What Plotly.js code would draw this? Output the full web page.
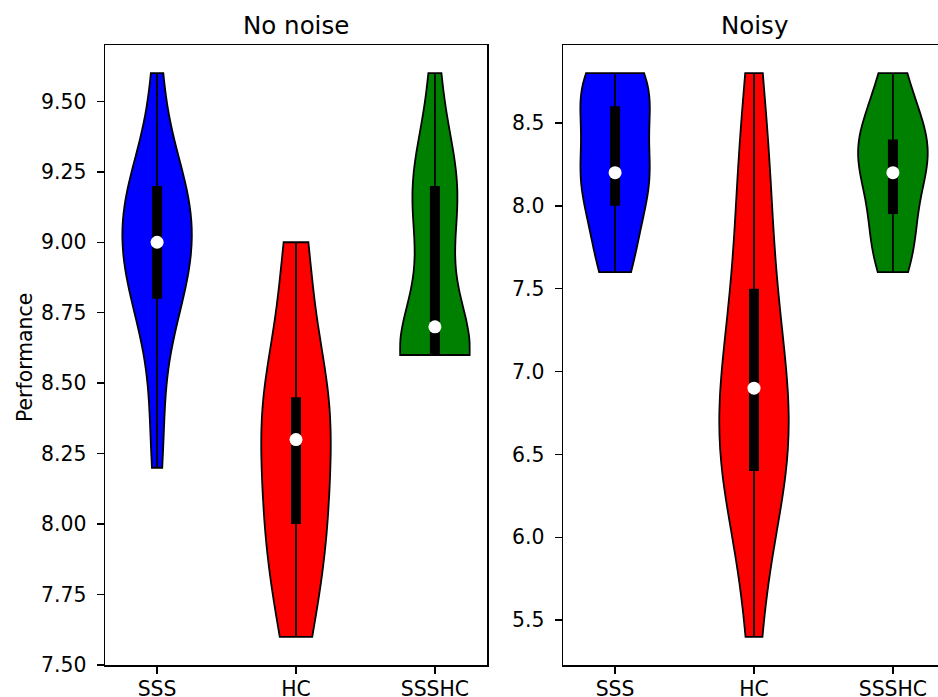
<!DOCTYPE html>
<html><head><meta charset="utf-8">
<script src="https://cdn.plot.ly/plotly-3.0.1.min.js"></script>
<style>
html,body{margin:0;padding:0;overflow:hidden;background:#fff;width:938px;height:697px}
#chart{width:950px;height:697px}
</style>
</head><body><div id="chart"></div>
<script>
// ---- data ----
const categories = ['SSS', 'HC', 'SSSHC'];
const panelTitles = ['No noise', 'Noisy'];
const yLabel = 'Performance';

const noNoiseSSS   = [8.2, 8.4, 8.6, 8.8, 8.8, 8.8, 8.8, 9.0, 9.0, 9.0, 9.0, 9.0, 9.0, 9.2, 9.2, 9.2, 9.2, 9.2, 9.4, 9.6];
const noNoiseHC    = [7.6, 7.6, 7.8, 7.8, 8.0, 8.0, 8.0, 8.0, 8.2, 8.2, 8.4, 8.4, 8.4, 8.4, 8.4, 8.6, 8.6, 8.8, 9.0, 9.0];
const noNoiseSSSHC = [8.6, 8.6, 8.6, 8.6, 8.6, 8.6, 8.6, 8.6, 8.6, 8.6, 8.8, 9.0, 9.0, 9.2, 9.2, 9.2, 9.2, 9.2, 9.4, 9.6];

const noisySSS   = [7.6, 7.6, 7.8, 7.8, 8.0, 8.0, 8.2, 8.2, 8.2, 8.2, 8.2, 8.4, 8.6, 8.6, 8.6, 8.6, 8.8, 8.8, 8.8, 8.8];
const noisyHC    = [5.4, 5.8, 6.2, 6.4, 6.4, 6.4, 6.6, 6.6, 6.6, 6.8, 7.0, 7.0, 7.2, 7.4, 7.4, 7.8, 8.0, 8.2, 8.4, 8.8];
const noisySSSHC = [7.6, 7.6, 7.8, 7.8, 7.8, 8.0, 8.0, 8.2, 8.2, 8.2, 8.2, 8.4, 8.4, 8.4, 8.4, 8.4, 8.6, 8.6, 8.8, 8.8];

const colors = ['#0000ff', '#ff0000', '#008000'];

// ---- helpers ----
function quantile(arr, p) {
  const s = arr.slice().sort((a, b) => a - b);
  const pos = (s.length - 1) * p;
  const lo = Math.floor(pos), hi = Math.ceil(pos);
  return s[lo] + (s[hi] - s[lo]) * (pos - lo);
}
function scottBandwidth(arr) {
  const n = arr.length;
  const m = arr.reduce((a, b) => a + b, 0) / n;
  const v = arr.reduce((a, b) => a + (b - m) * (b - m), 0) / (n - 1);
  return Math.sqrt(v) * Math.pow(n, -0.2);
}

const panels = [
  {groups: [noNoiseSSS, noNoiseHC, noNoiseSSSHC], xa: 'x', ya: 'y'},
  {groups: [noisySSS, noisyHC, noisySSSHC], xa: 'x2', ya: 'y2'}
];

const traces = [];
panels.forEach(p => {
  p.groups.forEach((g, i) => {
    traces.push({
      type: 'violin', x: g.map(() => categories[i]), y: g,
      xaxis: p.xa, yaxis: p.ya,
      spanmode: 'hard', side: 'both', width: 0.5, scalemode: 'width',
      bandwidth: scottBandwidth(g),
      points: false, box: {visible: false}, meanline: {visible: false},
      fillcolor: colors[i], opacity: 1,
      line: {color: '#000000', width: 1.8},
      hoverinfo: 'skip', showlegend: false
    });
  });
  const wx = [], wy = [], bx = [], by = [], mx = [], my = [];
  p.groups.forEach((g, i) => {
    const c = categories[i];
    wx.push(c, c, null); wy.push(Math.min(...g), Math.max(...g), null);
    bx.push(c, c, null); by.push(quantile(g, 0.25), quantile(g, 0.75), null);
    mx.push(c); my.push(quantile(g, 0.5));
  });
  traces.push({type: 'scatter', mode: 'lines', x: wx, y: wy, xaxis: p.xa, yaxis: p.ya,
    line: {color: '#000000', width: 1.8}, hoverinfo: 'skip', showlegend: false, connectgaps: false});
  traces.push({type: 'scatter', mode: 'lines', x: bx, y: by, xaxis: p.xa, yaxis: p.ya,
    line: {color: '#000000', width: 10}, hoverinfo: 'skip', showlegend: false, connectgaps: false});
  traces.push({type: 'scatter', mode: 'markers', x: mx, y: my, xaxis: p.xa, yaxis: p.ya,
    marker: {color: '#ffffff', size: 13, line: {width: 0}}, hoverinfo: 'skip', showlegend: false});
});

const W = 950, H = 697;
const font = {family: 'DejaVu Sans', size: 20.4, color: '#000000'};
const axisCommon = {
  showline: true, mirror: true, linecolor: '#000000', linewidth: 1.5,
  ticks: 'outside', ticklen: 7, tickwidth: 1.5, tickcolor: '#000000',
  showgrid: false, zeroline: false, tickfont: font
};
const ydom = [(H - 665) / H, (H - 45) / H];

const layout = {
  width: W, height: H,
  margin: {l: 0, r: 0, t: 0, b: 0, pad: 0},
  paper_bgcolor: '#ffffff', plot_bgcolor: '#ffffff',
  violinmode: 'overlay', showlegend: false,
  font: font,
  xaxis: Object.assign({}, axisCommon, {type: 'category', categoryarray: categories, categoryorder: 'array',
    range: [-0.375, 2.375], domain: [105 / W, 487 / W], anchor: 'y', ticklabelstandoff: -2}),
  yaxis: Object.assign({}, axisCommon, {range: [7.5, 9.7], tick0: 7.5, dtick: 0.25, tickformat: '.2f',
    domain: ydom, anchor: 'x', ticklabelstandoff: 6}),
  xaxis2: Object.assign({}, axisCommon, {type: 'category', categoryarray: categories, categoryorder: 'array',
    range: [-0.375, 2.375], domain: [563 / W, 945 / W], anchor: 'y2', ticklabelstandoff: -2}),
  yaxis2: Object.assign({}, axisCommon, {range: [5.23, 8.97], tick0: 5.5, dtick: 0.5, tickformat: '.1f',
    domain: ydom, anchor: 'x2', ticklabelstandoff: 6}),
  annotations: [
    {text: panelTitles[0], xref: 'paper', yref: 'paper', x: 296 / W, y: 1 - 25 / H,
     xanchor: 'center', yanchor: 'middle', showarrow: false,
     font: {family: 'DejaVu Sans', size: 24.5, color: '#000000'}},
    {text: panelTitles[1], xref: 'paper', yref: 'paper', x: 754 / W, y: 1 - 25 / H,
     xanchor: 'center', yanchor: 'middle', showarrow: false,
     font: {family: 'DejaVu Sans', size: 24.5, color: '#000000'}},
    {text: yLabel, xref: 'paper', yref: 'paper', x: 25 / W, y: 1 - 358 / H,
     xanchor: 'center', yanchor: 'middle', textangle: -90, showarrow: false,
     font: {family: 'DejaVu Sans', size: 20.4, color: '#000000'}}
  ]
};

Plotly.newPlot('chart', traces, layout, {staticPlot: true, displayModeBar: false});
</script>
</body></html>
